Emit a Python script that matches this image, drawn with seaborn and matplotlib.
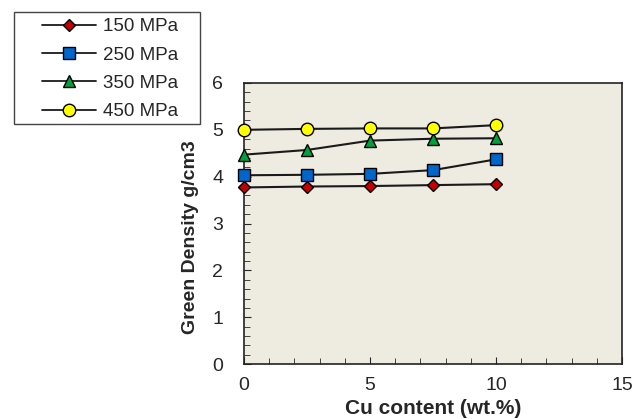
import numpy as np
import pandas as pd
import matplotlib
matplotlib.use("Agg")
import matplotlib.pyplot as plt
import seaborn as sns
from matplotlib.ticker import MultipleLocator
from matplotlib.patches import Rectangle

# ----------------------------
# Data
# ----------------------------

cu = [0, 2.5, 5, 7.5, 10]
d150 = [3.77, 3.79, 3.80, 3.82, 3.84]
d250 = [4.03, 4.04, 4.06, 4.14, 4.37]
d350 = [4.47, 4.57, 4.77, 4.81, 4.82]
d450 = [5.00, 5.02, 5.03, 5.03, 5.10]

labels = ["150 MPa", "250 MPa", "350 MPa", "450 MPa"]
series = [d150, d250, d350, d450]
markers = ["D", "s", "^", "o"]
face_colors = ["#C00000", "#0066CC", "#00A03C", "#FFFF00"]
marker_sizes = [6.5, 8, 8.5, 9]

# ----------------------------
# Plot
# ----------------------------

sns.set_style("ticks")
plt.rcParams["font.family"] = ["Liberation Sans", "DejaVu Sans"]

W, H = 644, 419
fig = plt.figure(figsize=(W / 100, H / 100), dpi=100)
ax = fig.add_axes([0.379, 0.131, 0.587, 0.671])
ax.set_facecolor("#EEEBE0")

for lab, vals, m, fc, ms in zip(labels, series, markers, face_colors, marker_sizes):
    df = pd.DataFrame({"x": cu, "y": vals})
    sns.lineplot(
        data=df, x="x", y="y", ax=ax,
        color="#1a1a1a", linewidth=1.5,
        marker=m, markersize=ms,
        markerfacecolor=fc, markeredgecolor="black", markeredgewidth=1.0,
        label=lab, clip_on=False, zorder=3
    )

ax.set_xlim(0, 15)
ax.set_ylim(0, 6)
ax.xaxis.set_major_locator(MultipleLocator(5))
ax.xaxis.set_minor_locator(MultipleLocator(1))
ax.yaxis.set_major_locator(MultipleLocator(1))
ax.yaxis.set_minor_locator(MultipleLocator(0.2))
ax.tick_params(which="both", direction="in", labelsize=14)
ax.tick_params(axis="x", pad=9)
ax.tick_params(axis="y", pad=15)
ax.tick_params(which="major", length=5)
ax.tick_params(which="minor", length=4)

for s in ["top", "right", "left", "bottom"]:
    ax.spines[s].set_visible(True)
    ax.spines[s].set_linewidth(1.2)
    ax.spines[s].set_color("#222222")

ax.set_xlabel("Cu content (wt.%)", fontsize=15, fontweight="bold", labelpad=4)
ax.set_ylabel("Green Density g/cm3", fontsize=14, fontweight="bold")
ax.yaxis.set_label_coords(-0.12, 0.45)

# ----------------------------
# Legend (box drawn separately)
# ----------------------------

ax.legend_.remove()
handles, leg_labels = ax.get_legend_handles_labels()
leg = fig.legend(
    handles, leg_labels,
    loc="upper left", bbox_to_anchor=(42 / W, 1 - 18 / H),
    fontsize=13.5, frameon=False,
    handlelength=2.9, labelspacing=0.6,
    borderpad=0, handletextpad=0.35, borderaxespad=0
)
for h in leg.legend_handles:
    h.set_linewidth(1.3)

fig.patches.append(Rectangle(
    (14 / W, 1 - 124 / H), 186 / W, 112 / H,
    transform=fig.transFigure, fill=False,
    edgecolor="#444444", linewidth=1.0
))

plt.savefig("out.png", dpi=100)
